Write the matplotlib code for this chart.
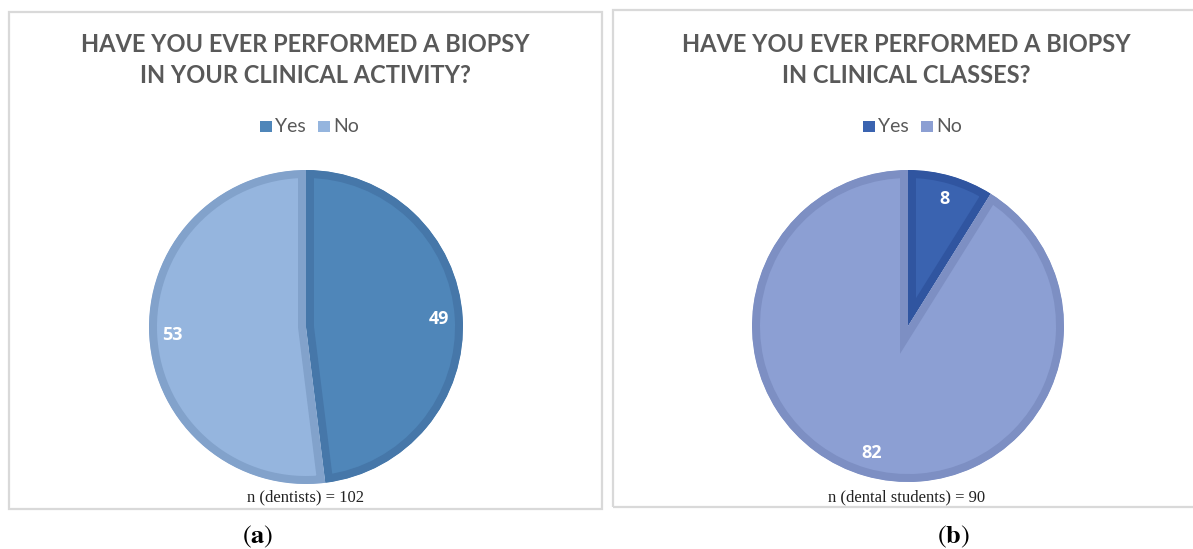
import matplotlib
matplotlib.use("Agg")
import matplotlib.pyplot as plt
from matplotlib.patches import Rectangle

W, H = 1193, 549

# survey answers
labels = ["Yes", "No"]
dentists = [49, 53]
students = [8, 82]

titles_a = ["HAVE YOU EVER PERFORMED A BIOPSY", "IN YOUR CLINICAL ACTIVITY?"]
titles_b = ["HAVE YOU EVER PERFORMED A BIOPSY", "IN CLINICAL CLASSES?"]
notes = ["n (dentists) = 102", "n (dental students) = 90"]
panel_tags = ["a", "b"]

fills_a = ["#4F86B9", "#95B5DE"]
edges_a = ["#4677A9", "#82A2CB"]
fills_b = ["#3A63B0", "#8C9FD3"]
edges_b = ["#3055A0", "#7D8FC3"]

title_color = "#595959"
border_color = "#D9D9D9"

plt.rcParams["mathtext.fontset"] = "stix"


def fx(x):
    return x / W


def fy(y):
    return 1 - y / H


fig = plt.figure(figsize=(W / 100, H / 100), dpi=100)
fig.patch.set_facecolor("white")


def panel(x0, x1, y0, y1, cx, cy, r, values, fills, edges, title, note, tag,
          leg_x, tag_x):
    mid = (x0 + x1) / 2
    # frame around the chart
    fig.patches.append(Rectangle((fx(x0), fy(y1)), fx(x1 - x0), (y1 - y0) / H,
                                 transform=fig.transFigure, fill=False,
                                 edgecolor=border_color, linewidth=1.6))
    fig.text(fx(mid), fy(52), title[0], ha="center", va="baseline",
             family="Lato", weight="bold", fontsize=17, color=title_color)
    fig.text(fx(mid), fy(83), title[1], ha="center", va="baseline",
             family="Lato", weight="bold", fontsize=17, color=title_color)

    # legend
    x = leg_x
    for lab, col in zip(labels, fills):
        fig.patches.append(Rectangle((fx(x), fy(132)), fx(12), 11 / H,
                                     transform=fig.transFigure,
                                     facecolor=col, edgecolor="none"))
        fig.text(fx(x + 15), fy(127), lab, ha="left", va="center",
                 family="Lato", fontsize=14, color=title_color)
        x += 58

    ax = fig.add_axes([fx(cx - r), fy(cy + r), fx(2 * r), 2 * r / H])
    total = sum(values)
    wedges, texts, autotexts = ax.pie(
        values, colors=fills, startangle=90, counterclock=False, radius=1,
        autopct=lambda p: f"{round(p * total / 100)}", pctdistance=0.85,
        wedgeprops=dict(linewidth=11.5),
        textprops=dict(color="white", family="Open Sans", weight="bold",
                       fontsize=13))
    # keep the outline inside each slice
    for w, ec in zip(wedges, edges):
        w.set_edgecolor(ec)
        w.set_clip_on(True)
        w.set_clip_path(w)
    ax.set_xlim(-1, 1)
    ax.set_ylim(-1, 1)
    ax.set_aspect("equal")

    fig.text(fx(mid), fy(497), note, ha="center", va="center",
             family="Liberation Serif", fontsize=12, color="#222222")
    fig.text(fx(tag_x), fy(537), r"$\mathrm{(}\mathbf{" + tag + r"}\mathrm{)}$",
             ha="center", va="center", fontsize=19, color="black")


panel(9, 602, 12, 509, 306, 327, 157, dentists, fills_a, edges_a,
      titles_a, notes[0], panel_tags[0], 260, 258)
panel(613, 1200, 10, 507, 908, 326, 156, students, fills_b, edges_b,
      titles_b, notes[1], panel_tags[1], 863, 953)

fig.savefig("out.png", dpi=100, facecolor="white")
